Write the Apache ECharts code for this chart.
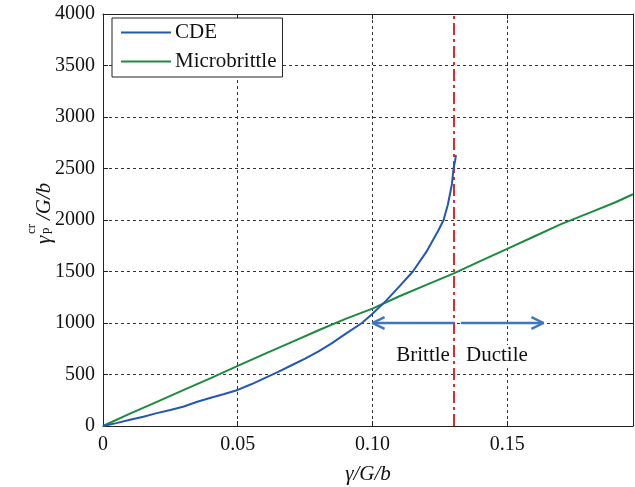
<!DOCTYPE html>
<html><head><meta charset="utf-8">
<script src="https://cdn.jsdelivr.net/npm/echarts@6/dist/echarts.min.js"></script>
<style>html,body{margin:0;padding:0;background:#fff}#c{width:635px;height:487px}</style>
</head><body><div id="c"></div>
<script>
// ---- data ----
var cdeX = [0,0.005,0.01,0.015,0.02,0.025,0.03,0.035,0.04,0.045,0.05,0.055,0.06,0.065,0.07,0.075,0.08,0.085,0.09,0.0961,0.1,0.105,0.11,0.115,0.12,0.1245,0.1264,0.128,0.1295,0.1301,0.1307,0.131];
var cdeY = [0,28,60,90,125,155,190,235,275,310,350,405,465,525,590,655,725,805,895,1000,1090,1215,1355,1500,1690,1900,2000,2150,2350,2500,2580,2630];
var microX = [0,0.01,0.02,0.03,0.04,0.05,0.06,0.07,0.08,0.09,0.1,0.11,0.12,0.13,0.14,0.15,0.16,0.17,0.18,0.19,0.1967];
var microY = [0,120,235,350,465,583,700,815,930,1040,1140,1260,1370,1480,1600,1720,1840,1960,2065,2170,2250];
var transitionX = 0.1317;
var arrowLeftX = [0.1045,0.1,0.1045];
var arrowLeftY = [1058,1000,942];
var shaftLeftX = [0.1,0.1304];
var shaftRightX = [0.1328,0.1635];
var shaftY = [1000,1000];
var arrowRightX = [0.159,0.1635,0.159];
var arrowRightY = [1058,1000,942];
var regionLabels = ['Brittle','Ductile'];
var regionLabelX = [0.1188,0.1462];
var regionLabelY = [685,685];
var xTicks = ['0','0.05','0.10','0.15'];

function zip(a,b){return a.map(function(v,i){return [v,b[i]];});}

var FONT = 'Liberation Serif';
var chart = echarts.init(document.getElementById('c'));
var axisCommon = {
  axisLine:{show:true,onZero:false,lineStyle:{color:'#222',width:1}},
  axisTick:{show:true,inside:true,length:5,lineStyle:{color:'#222'}},
};
var arrowColor = '#3b78bf';
chart.setOption({
  animation:false,
  grid:{left:103,right:2,top:14,bottom:61},
  legend:{
    data:['CDE','Microbrittle'],
    orient:'vertical', left:112, top:18,
    backgroundColor:'#fff', borderColor:'#222', borderWidth:1,
    padding:[4,6,5,9], itemGap:8, itemWidth:50, itemHeight:2, icon:'rect',
    textStyle:{fontFamily:FONT,fontSize:21,color:'#111',padding:[0,0,0,-1]}
  },
  xAxis:[
    Object.assign({type:'value',position:'bottom',min:0,max:0.1967,interval:0.05,
      axisLabel:{fontFamily:FONT,fontSize:20,color:'#111',margin:9,showMaxLabel:false,
        formatter:function(v){var i=Math.round(v/0.05);return Math.abs(v-i*0.05)<1e-9?xTicks[i]:'';}},
      splitLine:{show:true,lineStyle:{color:'#333',type:[3,3],width:1}}},axisCommon),
    Object.assign({type:'value',position:'top',min:0,max:0.1967,interval:0.05,
      axisLabel:{show:false},splitLine:{show:false}},axisCommon)
  ],
  yAxis:[
    Object.assign({type:'value',position:'left',min:0,max:4000,interval:500,
      axisLabel:{fontFamily:FONT,fontSize:20,color:'#111',margin:8,formatter:function(v){return String(v);}},
      splitLine:{show:true,lineStyle:{color:'#333',type:[3,3],width:1}}},axisCommon),
    Object.assign({type:'value',position:'right',min:0,max:4000,interval:500,
      axisLabel:{show:false},splitLine:{show:false}},axisCommon)
  ],
  series:[
    {name:'CDE',type:'line',data:zip(cdeX,cdeY),showSymbol:false,symbol:'none',
      lineStyle:{color:'#2457b0',width:2},itemStyle:{color:'#2457b0'},z:5},
    {name:'Microbrittle',type:'line',data:zip(microX,microY),showSymbol:false,symbol:'none',
      lineStyle:{color:'#1e8a3e',width:2},itemStyle:{color:'#1e8a3e'},z:4,
      markLine:{silent:true,symbol:['none','none'],label:{show:false},
        lineStyle:{color:'#e8262a',width:2,type:[12,4,3,4]},
        data:[{xAxis:transitionX}]}},
    {type:'line',data:zip(shaftLeftX,shaftY),symbol:'none',lineStyle:{color:arrowColor,width:2.5},z:6},
    {type:'line',data:zip(shaftRightX,shaftY),symbol:'none',lineStyle:{color:arrowColor,width:2.5},z:6},
    {type:'line',data:zip(arrowLeftX,arrowLeftY),symbol:'none',lineStyle:{color:arrowColor,width:2.5},z:6},
    {type:'line',data:zip(arrowRightX,arrowRightY),symbol:'none',lineStyle:{color:arrowColor,width:2.5},z:6},
    {type:'scatter',symbolSize:1,itemStyle:{opacity:0},z:7,
      data:regionLabels.map(function(t,i){return {value:[regionLabelX[i],regionLabelY[i]],name:t};}),
      label:{show:true,position:'inside',formatter:function(p){return p.name;},opacity:1,
        fontFamily:FONT,fontSize:21,color:'#111',textBorderWidth:0,backgroundColor:'#fff',padding:[0,2]}}
  ],
  graphic:[
    {type:'text',x:368,y:474,style:{text:'γ/G/b',font:'italic 21px "Liberation Serif"',fill:'#111',align:'center',verticalAlign:'middle'}},
    {type:'group',x:34,y:244,rotation:Math.PI/2,children:[
      {type:'text',x:0,y:0,style:{text:'γ',font:'italic 21px "Liberation Serif"',fill:'#111',verticalAlign:'alphabetic'}},
      {type:'text',x:10,y:-9,style:{text:'cr',font:'13px "Liberation Serif"',fill:'#111',verticalAlign:'alphabetic'}},
      {type:'text',x:10,y:5,style:{text:'p',font:'13px "Liberation Serif"',fill:'#111',verticalAlign:'alphabetic'}},
      {type:'text',x:24,y:0,style:{text:'/G/b',font:'italic 21px "Liberation Serif"',fill:'#111',verticalAlign:'alphabetic'}}
    ]}
  ]
});
</script></body></html>
